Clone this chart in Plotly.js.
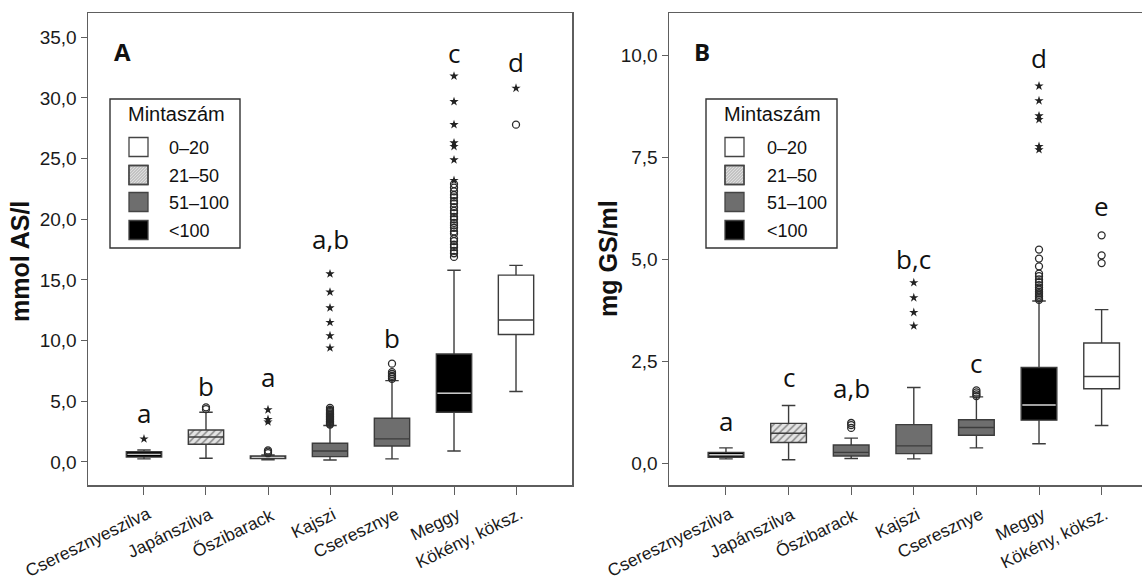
<!DOCTYPE html>
<html>
<head>
<meta charset="utf-8">
<script src="https://cdn.plot.ly/plotly-3.0.1.min.js"></script>
<style>html,body{margin:0;padding:0;background:#fff;}#chart{width:1142px;height:581px;}</style>
</head>
<body>
<div id="chart"></div>
<script>
// ---------- data ----------
const categories = ['Cseresznyeszilva','Japánszilva','Őszibarack','Kajszi','Cseresznye','Meggy','Kökény, köksz.'];
const groupNames = ['0–20','21–50','51–100','<100'];

// Panel A: mmol AS/l
const q1A  = [0.40, 1.46, 0.27, 0.44, 1.32, 4.09, 10.5];
const medA = [0.62, 2.05, 0.38, 0.90, 1.90, 5.66, 11.7];
const q3A  = [0.85, 2.63, 0.50, 1.54, 3.60, 8.90, 15.4];
const loA  = [0.25, 0.30, 0.18, 0.16, 0.25, 0.90, 5.8];
const hiA  = [0.98, 4.10, 0.58, 3.00, 6.70, 15.8, 16.2];
const groupA = [3, 1, 3, 2, 2, 3, 0];
const circlesA = [
  [],
  [4.35, 4.5],
  [0.72, 0.85, 0.95],
  [3.08, 3.15, 3.22, 3.3, 3.36, 3.45, 3.52, 3.6, 3.68, 3.75, 3.85, 3.92, 4.0, 4.1, 4.2, 4.3, 4.45],
  [6.85, 7.0, 7.1, 7.25, 7.4, 8.1],
  [16.9, 17.2, 17.4, 17.7, 17.9, 18.2, 18.4, 18.8, 19.0, 19.3, 19.5, 19.7, 20.0, 20.2, 20.5, 20.7, 21.0, 21.3, 21.5, 21.8, 22.0, 22.3, 22.6, 22.9],
  [27.8]
];
const starsA = [
  [1.9],
  [],
  [3.3, 3.5, 4.3],
  [9.4, 10.4, 11.5, 12.7, 14.0, 15.5],
  [],
  [23.2, 24.9, 26.0, 26.3, 27.8, 29.7, 31.8],
  [30.8]
];
const lettersA  = ['a', 'b', 'a', 'a,b', 'b', 'c', 'd'];
const letterYA  = [4.0, 6.3, 7.0, 18.4, 10.2, 33.7, 33.0];

// Panel B: mg GS/ml
const q1B  = [0.16, 0.52, 0.19, 0.25, 0.70, 1.07, 1.84];
const medB = [0.22, 0.75, 0.28, 0.44, 0.89, 1.44, 2.14];
const q3B  = [0.28, 0.99, 0.46, 0.96, 1.08, 2.36, 2.96];
const loB  = [0.12, 0.10, 0.13, 0.12, 0.39, 0.49, 0.94];
const hiB  = [0.39, 1.43, 0.63, 1.87, 1.64, 3.99, 3.78];
const groupB = [3, 1, 2, 2, 2, 3, 0];
const circlesB = [
  [],
  [],
  [0.88, 0.95, 1.0],
  [],
  [1.66, 1.7, 1.75, 1.8],
  [4.02, 4.06, 4.1, 4.14, 4.18, 4.22, 4.27, 4.32, 4.38, 4.45, 4.52, 4.6, 4.66, 4.84, 5.03, 5.25],
  [4.92, 5.11, 5.6]
];
const starsB = [
  [],
  [],
  [],
  [3.38, 3.71, 4.07, 4.44],
  [],
  [7.7, 7.78, 8.44, 8.53, 8.9, 9.26],
  []
];
const lettersB = ['a', 'c', 'a,b', 'b,c', 'c', 'd', 'e'];
const letterYB = [1.05, 2.12, 1.87, 5.03, 2.48, 9.94, 6.32];

// ---------- styles ----------
const W = 1142, H = 581, TOP = 13, BOT = 485;
const groupFill = ['#ffffff', '#dcdcdc', '#6e6e6e', '#000000'];
const lineCol = '#3c3c3c';
const BOXW = 0.57;
const px = x => x / W;
const py = y => 1 - (y - TOP) / (BOT - TOP);

const traces = [];
const annotations = [];
const shapes = [];

function buildPanel(xa, ya, q1, med, q3, lo, hi, grp, circ, stars, letters, letterY) {
  categories.forEach((c, i) => {
    const g = grp[i];
    if (g === 1) {
      traces.push({
        type: 'bar', x: [c], y: [q3[i] - q1[i]], base: [q1[i]], width: BOXW,
        marker: {color: '#e4e4e4', line: {width: 0},
                 pattern: {shape: '/', fgcolor: '#8a8a8a', bgcolor: '#e4e4e4', size: 5, solidity: 0.3}},
        xaxis: xa, yaxis: ya, showlegend: false, hoverinfo: 'skip'
      });
    }
    traces.push({
      type: 'box', x: [c], q1: [q1[i]], median: [med[i]], q3: [q3[i]],
      lowerfence: [lo[i]], upperfence: [hi[i]], boxpoints: false,
      width: BOXW, whiskerwidth: 0.38,
      fillcolor: g === 1 ? 'rgba(0,0,0,0)' : groupFill[g],
      line: {color: lineCol, width: 1.4},
      xaxis: xa, yaxis: ya, showlegend: false, hoverinfo: 'skip'
    });
    if (g === 3) {
      traces.push({
        type: 'box', x: [c], q1: [med[i]], median: [med[i]], q3: [med[i]],
        lowerfence: [med[i]], upperfence: [med[i]], boxpoints: false,
        width: BOXW * 0.93, whiskerwidth: 0, fillcolor: 'rgba(0,0,0,0)',
        line: {color: '#c8c8c8', width: 1.4},
        xaxis: xa, yaxis: ya, showlegend: false, hoverinfo: 'skip'
      });
    }
    annotations.push({
      xref: xa, yref: ya, x: c, y: letterY[i], text: letters[i], showarrow: false,
      font: {family: 'Open Sans', size: 26, color: '#111'}, xanchor: 'center', yanchor: 'middle'
    });
    // rotated category label under the tick
    annotations.push({
      xref: xa, yref: 'paper', x: c, y: py(501), text: c, showarrow: false,
      textangle: -26, xanchor: 'right', yanchor: 'top', xshift: 12,
      font: {family: 'Arial', size: 17.5, color: '#1a1a1a'}
    });
  });
  const cx = [], cy = [], sx = [], sy = [];
  categories.forEach((c, i) => {
    circ[i].forEach(v => { cx.push(c); cy.push(v); });
    stars[i].forEach(v => { sx.push(c); sy.push(v); });
  });
  traces.push({
    type: 'scatter', mode: 'markers', x: cx, y: cy, xaxis: xa, yaxis: ya,
    marker: {symbol: 'circle-open', size: 7, color: '#2a2a2a', line: {width: 1.3, color: '#2a2a2a'}},
    showlegend: false, hoverinfo: 'skip'
  });
  traces.push({
    type: 'scatter', mode: 'markers', x: sx, y: sy, xaxis: xa, yaxis: ya,
    marker: {symbol: 'star', size: 7, color: '#222', line: {width: 0}},
    showlegend: false, hoverinfo: 'skip'
  });
}

buildPanel('x', 'y', q1A, medA, q3A, loA, hiA, groupA, circlesA, starsA, lettersA, letterYA);
buildPanel('x2', 'y2', q1B, medB, q3B, loB, hiB, groupB, circlesB, starsB, lettersB, letterYB);

// manual legends (layout decoration)
function drawLegend(boxL, boxR, iconL, iconR, textX, titleX) {
  shapes.push({type: 'rect', xref: 'paper', yref: 'paper', x0: px(boxL), x1: px(boxR), y0: py(99), y1: py(248),
    line: {color: '#333', width: 1.4}, fillcolor: '#fff', layer: 'above'});
  annotations.push({xref: 'paper', yref: 'paper', x: px(titleX), y: py(114), text: 'Mintaszám', showarrow: false,
    xanchor: 'left', yanchor: 'middle', font: {family: 'Arial', size: 20, color: '#111'}});
  const rows = [147, 175, 202, 230];
  groupNames.forEach((n, g) => {
    const yc = rows[g], y0 = yc - 9.5, y1 = yc + 9.5;
    shapes.push({type: 'rect', xref: 'paper', yref: 'paper', x0: px(iconL), x1: px(iconR), y0: py(y1), y1: py(y0),
      line: {color: '#444', width: 1.3}, fillcolor: g === 1 ? '#dedede' : groupFill[g], layer: 'above'});
    if (g === 1) {
      let p = '';
      const w = iconR - iconL, h = y1 - y0;
      for (let k = -h; k < w; k += 3) {
        let xa = iconL + k, ya = y1, xb = iconL + k + h, yb = y0;
        if (xa < iconL) { ya = y1 - (iconL - xa); xa = iconL; }
        if (xb > iconR) { yb = y0 + (xb - iconR); xb = iconR; }
        p += `M${px(xa)},${py(ya)}L${px(xb)},${py(yb)}`;
      }
      shapes.push({type: 'path', xref: 'paper', yref: 'paper', path: p, line: {color: '#999', width: 0.8}, layer: 'above'});
      shapes.push({type: 'rect', xref: 'paper', yref: 'paper', x0: px(iconL), x1: px(iconR), y0: py(y1), y1: py(y0),
        line: {color: '#444', width: 1.3}, fillcolor: 'rgba(0,0,0,0)', layer: 'above'});
    }
    annotations.push({xref: 'paper', yref: 'paper', x: px(textX), y: py(yc + 1), text: n, showarrow: false,
      xanchor: 'left', yanchor: 'middle', font: {family: 'Arial', size: 18, color: '#111'}});
  });
}
drawLegend(110, 240, 129, 148, 167, 126);
drawLegend(706, 837, 725, 744, 765, 722);

// panel letters and axis titles
annotations.push({xref: 'paper', yref: 'paper', x: px(122), y: py(51), text: '<b>A</b>', showarrow: false,
  xanchor: 'center', yanchor: 'middle', font: {family: 'Open Sans', size: 24, color: '#111'}});
annotations.push({xref: 'paper', yref: 'paper', x: px(702), y: py(51), text: '<b>B</b>', showarrow: false,
  xanchor: 'center', yanchor: 'middle', font: {family: 'Open Sans', size: 24, color: '#111'}});
annotations.push({xref: 'paper', yref: 'paper', x: px(20), y: py(262), text: '<b>mmol AS/l</b>', showarrow: false,
  textangle: -90, xanchor: 'center', yanchor: 'middle', font: {family: 'Arial', size: 25, color: '#111'}});
annotations.push({xref: 'paper', yref: 'paper', x: px(608), y: py(259), text: '<b>mg GS/ml</b>', showarrow: false,
  textangle: -90, xanchor: 'center', yanchor: 'middle', font: {family: 'Arial', size: 25, color: '#111'}});

const lineC = '#5e5e5e';
const axBase = {showline: true, linecolor: lineC, linewidth: 1.5,
  ticks: 'outside', tickcolor: lineC, showgrid: false, zeroline: false};
const yTickFont = {family: 'Arial', size: 19, color: '#1a1a1a'};

const layout = {
  width: W, height: H,
  margin: {l: 0, r: 0, t: TOP, b: H - BOT},
  paper_bgcolor: '#fff', plot_bgcolor: '#fff',
  separators: ', ',
  barmode: 'overlay', boxmode: 'overlay',
  showlegend: false,
  xaxis: Object.assign({}, axBase, {mirror: true, domain: [px(88), px(572)], anchor: 'y', type: 'category',
    categoryorder: 'array', categoryarray: categories, range: [-0.903, 6.903], ticklen: 8,
    showticklabels: false}),
  yaxis: Object.assign({}, axBase, {mirror: true, domain: [0, 1], anchor: 'x', range: [-1.9, 37.0], dtick: 5, tick0: 0,
    tickformat: '.1f', ticklen: 6, tickfont: yTickFont}),
  xaxis2: Object.assign({}, axBase, {mirror: true, domain: [px(669), 1], anchor: 'y2', type: 'category',
    categoryorder: 'array', categoryarray: categories, range: [-0.91, 6.645], ticklen: 8,
    showticklabels: false}),
  yaxis2: Object.assign({}, axBase, {mirror: false, domain: [0, 1], anchor: 'x2', range: [-0.52, 11.05], dtick: 2.5, tick0: 0,
    tickformat: '.1f', ticklen: 6, tickfont: yTickFont}),
  shapes: shapes,
  annotations: annotations
};

Plotly.newPlot('chart', traces, layout, {staticPlot: true, displayModeBar: false});
</script>
</body>
</html>
